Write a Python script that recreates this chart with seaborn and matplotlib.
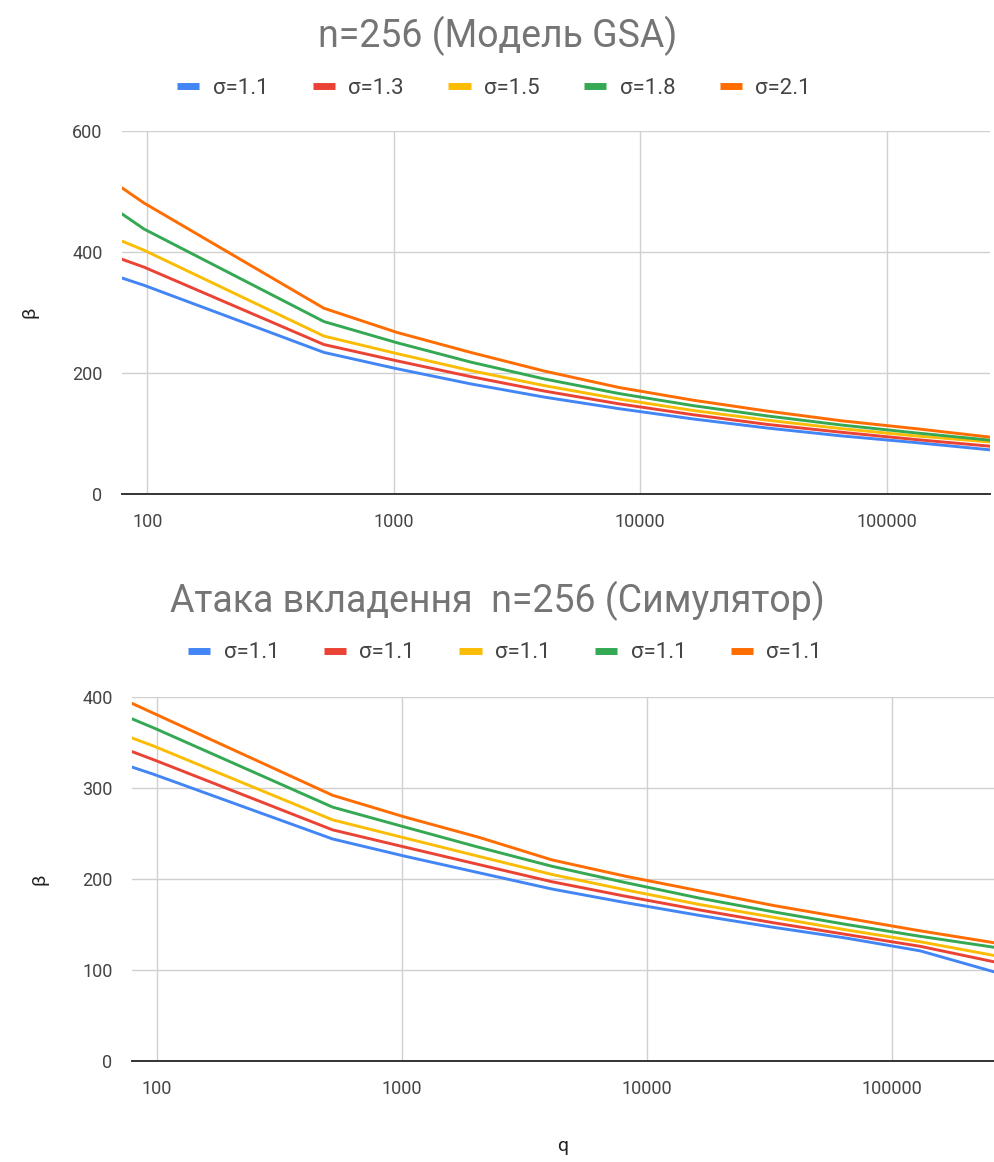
import numpy as np
import pandas as pd
import matplotlib
matplotlib.use("Agg")
import matplotlib.pyplot as plt
from matplotlib.lines import Line2D
from matplotlib.ticker import FixedLocator, FixedFormatter, NullLocator
import seaborn as sns

# Modulus values q (shared x-axis for both panels)
q = [79, 97, 521, 1031, 2053, 4099, 8209, 16411, 32771, 65537, 131101, 262147]

# Top panel: GSA model, block size beta per sigma
gsa_labels = ["σ=1.1", "σ=1.3", "σ=1.5", "σ=1.8", "σ=2.1"]
gsa_s11 = [357, 345, 234, 207, 182, 160, 141, 124, 109, 96, 85, 73]
gsa_s13 = [388, 375, 247, 220, 194, 170, 149, 131, 115, 102, 90, 79]
gsa_s15 = [418, 403, 261, 232, 204, 179, 157, 138, 122, 108, 96, 86]
gsa_s18 = [463, 438, 285, 250, 218, 190, 166, 146, 129, 114, 101, 89]
gsa_s21 = [506, 481, 307, 267, 234, 203, 176, 155, 137, 121, 108, 94]

# Bottom panel: embedding attack, simulator
sim_labels = ["σ=1.1", "σ=1.1", "σ=1.1", "σ=1.1", "σ=1.1"]
sim_a = [323, 315, 244, 225, 207, 189, 174, 160, 147, 135, 121, 98]
sim_b = [340, 331, 254, 235, 216, 197, 181, 166, 152, 139, 126, 109]
sim_c = [355, 346, 265, 245, 225, 205, 188, 172, 158, 144, 131, 116]
sim_d = [376, 366, 279, 257, 235, 214, 196, 179, 164, 150, 137, 125]
sim_e = [393, 382, 292, 268, 246, 221, 203, 187, 171, 157, 143, 130]

palette = ["#4285F4", "#EA4335", "#FBBC04", "#34A853", "#FF6D01"]

x_ticks = [100, 1000, 10000, 100000]
x_tick_labels = ["100", "1000", "10000", "100000"]

sns.set_theme(style="white")
plt.rcParams["font.family"] = ["Roboto", "DejaVu Sans"]

W, H = 995, 1162
fig = plt.figure(figsize=(W / 100, H / 100), dpi=100)
fig.patch.set_facecolor("white")

title_color = "#757575"
tick_color = "#444444"
grid_color = "#d0d0d0"


def panel(rect, series, labels, yticks, title, title_y, legend_y, legend_x):
    ax = fig.add_axes(rect)
    df = pd.DataFrame({"q": np.tile(q, len(series)),
                       "beta": np.concatenate(series),
                       "sid": np.repeat(np.arange(len(series)), len(q))})
    sns.lineplot(data=df, x="q", y="beta", hue="sid", palette=palette,
                 linewidth=2.1, legend=False, ax=ax, estimator=None)
    ax.set_xscale("log")
    ax.set_xlim(min(q), max(q))
    ax.set_ylim(yticks[0], yticks[-1])
    ax.xaxis.set_major_locator(FixedLocator(x_ticks))
    ax.xaxis.set_major_formatter(FixedFormatter(x_tick_labels))
    ax.xaxis.set_minor_locator(NullLocator())
    ax.set_yticks(yticks)
    ax.set_yticklabels([str(v) for v in yticks])
    ax.grid(True, color=grid_color, linewidth=1.0)
    ax.set_axisbelow(True)
    for s in ["top", "right", "left"]:
        ax.spines[s].set_visible(False)
    ax.spines["bottom"].set_color("#333333")
    ax.spines["bottom"].set_linewidth(1.4)
    ax.tick_params(axis="both", length=0, labelsize=13, colors=tick_color)
    ax.tick_params(axis="x", pad=14)
    ax.tick_params(axis="y", pad=14)
    ax.set_xlabel("")
    ax.set_ylabel("β", fontsize=14, color="#222222", labelpad=24)
    fig.text(0.5, title_y, title, ha="center", va="center",
             fontsize=27, color=title_color)
    handles = [Line2D([0], [0], color=c, lw=5, solid_capstyle="butt")
               for c in palette]
    fig.legend(handles, labels, loc="center",
               bbox_to_anchor=(legend_x, legend_y), ncol=5, frameon=False,
               fontsize=16, handlelength=1.0, handletextpad=0.6,
               columnspacing=2.0, labelcolor=tick_color)
    return ax


ax_top = panel([122 / W, 1 - 494 / H, 868 / W, 363 / H],
               [gsa_s11, gsa_s13, gsa_s15, gsa_s18, gsa_s21], gsa_labels,
               [0, 200, 400, 600], "n=256 (Модель GSA)",
               1 - 36 / H, 1 - 88 / H, 494 / W)

ax_bot = panel([132 / W, 1 - 1061 / H, 862 / W, 364 / H],
               [sim_a, sim_b, sim_c, sim_d, sim_e], sim_labels,
               [0, 100, 200, 300, 400], "Атака вкладення  n=256 (Симулятор)",
               1 - 601 / H, 1 - 653 / H, 505 / W)
ax_bot.set_xlabel("q", fontsize=14, color="#222222", labelpad=28)

fig.savefig("out.png", dpi=100, facecolor="white")
